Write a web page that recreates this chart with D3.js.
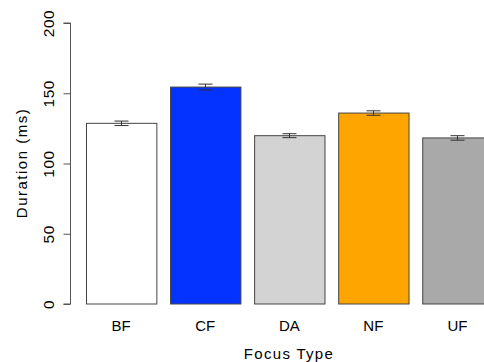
<!DOCTYPE html>
<html>
<head>
<meta charset="utf-8">
<script src="https://cdn.jsdelivr.net/npm/d3@7"></script>
<style>
  body { margin: 0; background: #fff; }
  svg text { font-family: "Liberation Sans", Arial, Helvetica, sans-serif; fill: #000; }
</style>
</head>
<body>
<svg id="chart" width="484" height="362"></svg>
<script>
const categories = ['BF', 'CF', 'DA', 'NF', 'UF'];
const durations = [128.6, 154.4, 119.8, 135.9, 118.2];
const errors = [1.6, 2.1, 1.4, 1.6, 1.6];
const barColors = ['#ffffff', '#0433ff', '#d3d3d3', '#ffa500', '#a9a9a9'];
const yTicks = [0, 50, 100, 150, 200];

const svg = d3.select('#chart');

const y = d3.scaleLinear()
    .domain([0, 200])
    .range([304, 23]);

const x = d3.scaleBand()
    .domain(categories)
    .range([86, 492.6])
    .paddingInner(0.163)
    .paddingOuter(0);

const rows = categories.map((c, i) => ({
    cat: c,
    value: durations[i],
    err: errors[i],
    color: barColors[i]
}));

// bars
svg.append('g')
    .selectAll('rect')
    .data(rows)
    .enter()
    .append('rect')
    .attr('x', d => x(d.cat) + 0.5)
    .attr('y', d => y(d.value))
    .attr('width', x.bandwidth())
    .attr('height', d => y(0) - y(d.value))
    .attr('fill', d => d.color)
    .attr('stroke', '#444')
    .attr('stroke-width', 1);

// error bars
const eb = svg.append('g')
    .attr('stroke', '#333')
    .attr('stroke-width', 1)
    .selectAll('g')
    .data(rows)
    .enter()
    .append('g')
    .attr('transform', d => `translate(${Math.round(x(d.cat) + x.bandwidth() / 2) + 0.5},0)`);

eb.append('line')
    .attr('y1', d => y(d.value - d.err))
    .attr('y2', d => y(d.value + d.err));
eb.append('line')
    .attr('x1', -7).attr('x2', 7)
    .attr('y1', d => y(d.value + d.err))
    .attr('y2', d => y(d.value + d.err));
eb.append('line')
    .attr('x1', -7).attr('x2', 7)
    .attr('y1', d => y(d.value - d.err))
    .attr('y2', d => y(d.value - d.err));

// y axis
const yAxis = svg.append('g')
    .attr('transform', 'translate(70.5,0)')
    .call(d3.axisLeft(y).tickValues(yTicks).tickSize(7).tickPadding(0).tickFormat(d3.format('d')));
yAxis.select('.domain').attr('stroke', '#555').attr('d', `M-7,${y(0)}H0V${y(200)}H-7`);
yAxis.selectAll('.tick line').attr('stroke', '#555');
yAxis.selectAll('.tick text')
    .attr('font-size', 15.5)
    .attr('letter-spacing', 0.5)
    .attr('text-anchor', 'middle')
    .attr('x', 0)
    .attr('dy', 0)
    .attr('transform', 'translate(-16.5,0) rotate(-90)');

// x labels
svg.append('g')
    .selectAll('text')
    .data(categories)
    .enter()
    .append('text')
    .attr('x', d => x(d) + x.bandwidth() / 2)
    .attr('y', 330.5)
    .attr('text-anchor', 'middle')
    .attr('font-size', 15)
    .text(d => d);

svg.append('text')
    .attr('x', 289)
    .attr('y', 359)
    .attr('text-anchor', 'middle')
    .attr('font-size', 15)
    .attr('letter-spacing', 1.3)
    .text('Focus Type');

svg.append('text')
    .attr('transform', 'translate(27,163) rotate(-90)')
    .attr('text-anchor', 'middle')
    .attr('font-size', 15)
    .attr('letter-spacing', 1.5)
    .text('Duration (ms)');
</script>
</body>
</html>
